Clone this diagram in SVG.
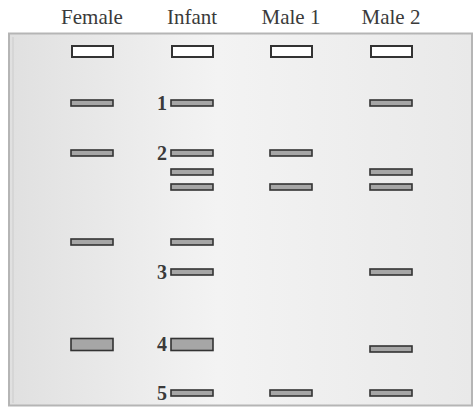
<svg xmlns="http://www.w3.org/2000/svg" width="474" height="410" viewBox="0 0 474 410">
<defs>
<linearGradient id="bg" x1="0" y1="0" x2="1" y2="0">
<stop offset="0" stop-color="#e0e0e0"/>
<stop offset="0.45" stop-color="#f3f3f3"/>
<stop offset="1" stop-color="#e9e9e9"/>
</linearGradient>
<style>
.lab{font-family:"Liberation Serif",serif;font-size:21px;fill:#3a3a3a;text-anchor:middle}
.num{font-family:"Liberation Serif",serif;font-size:20px;font-weight:bold;fill:#3a3a3a;text-anchor:end}
.well{fill:#ffffff;stroke:#333;stroke-width:2}
.band{fill:#a6a6a6;stroke:#333;stroke-width:1.6}
</style>
</defs>
<rect width="474" height="410" fill="#ffffff"/>
<rect x="9" y="33.5" width="463" height="372" fill="url(#bg)" stroke="#b5b5b5" stroke-width="2"/>
<line x1="13" y1="37" x2="13" y2="403" stroke="#cccccc" stroke-width="1"/>
<g id="labels">
<text class="lab" x="92" y="24">Female</text>
<text class="lab" x="192" y="24">Infant</text>
<text class="lab" x="291" y="24">Male 1</text>
<text class="lab" x="391" y="24">Male 2</text>
</g>
<g id="female">
<rect class="well" x="72" y="46" width="41" height="11"/>
<rect class="band" x="71" y="100" width="42" height="6"/>
<rect class="band" x="71" y="150" width="42" height="6"/>
<rect class="band" x="71" y="239" width="42" height="6"/>
<rect class="band" x="71" y="338.5" width="42" height="12"/>
</g>
<g id="infant">
<rect class="well" x="172" y="46" width="41" height="11"/>
<rect class="band" x="171" y="100" width="42" height="6"/>
<rect class="band" x="171" y="150" width="42" height="6"/>
<rect class="band" x="171" y="169" width="42" height="6"/>
<rect class="band" x="171" y="184" width="42" height="6"/>
<rect class="band" x="171" y="239" width="42" height="6"/>
<rect class="band" x="171" y="269" width="42" height="6"/>
<rect class="band" x="171" y="338.5" width="42" height="12"/>
<rect class="band" x="171" y="390" width="42" height="6"/>
<text class="num" x="167" y="110">1</text>
<text class="num" x="167" y="160">2</text>
<text class="num" x="167" y="279">3</text>
<text class="num" x="167" y="351">4</text>
<text class="num" x="167" y="400">5</text>
</g>
<g id="male1">
<rect class="well" x="271" y="46" width="41" height="11"/>
<rect class="band" x="270" y="150" width="42" height="6"/>
<rect class="band" x="270" y="184" width="42" height="6"/>
<rect class="band" x="270" y="390" width="42" height="6"/>
</g>
<g id="male2">
<rect class="well" x="371" y="46" width="41" height="11"/>
<rect class="band" x="370" y="100" width="42" height="6"/>
<rect class="band" x="370" y="169" width="42" height="6"/>
<rect class="band" x="370" y="184" width="42" height="6"/>
<rect class="band" x="370" y="269" width="42" height="6"/>
<rect class="band" x="370" y="346" width="42" height="6"/>
<rect class="band" x="370" y="390" width="42" height="6"/>
</g>
</svg>
